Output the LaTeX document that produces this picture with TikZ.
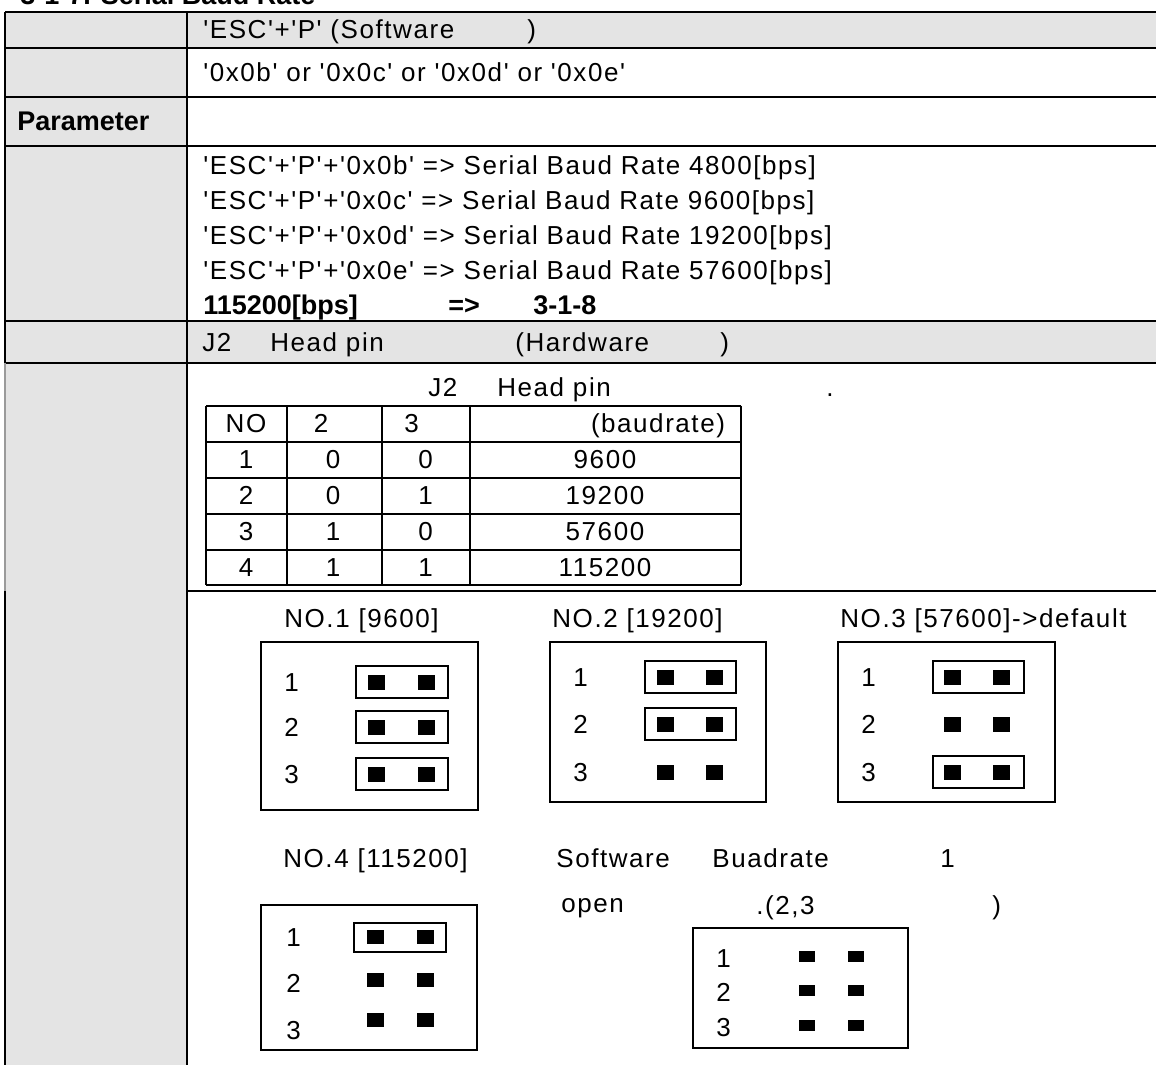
\documentclass[tikz,border=0pt]{standalone}
\usepackage{fontspec}
\setmainfont{Liberation Sans}[Ligatures=TeXOff]
\newfontfamily\widefont{Liberation Sans}[Ligatures=TeXOff,LetterSpace=6]
\definecolor{cellgray}{HTML}{E4E4E4}
\definecolor{edgegray}{HTML}{9A9A9A}
\tikzset{
  txt/.style={anchor=base west, inner sep=0pt, font=\widefont\fontsize{13}{15}\selectfont},
  ctxt/.style={txt, anchor=base},
  btxt/.style={anchor=base west, inner sep=0pt, font=\bfseries\fontsize{13.5}{16}\selectfont},
  rule/.style={line width=1pt},
  boxline/.style={line width=0.9pt},
  capline/.style={line width=0.6pt},
}
\begin{document}
\begin{tikzpicture}[x=0.5pt,y=-0.5pt]
            \useasboundingbox (0,0) rectangle (1156,1065);
            
            % Title, cut by the page top
            \node [btxt] (title) at (20,5) {3-1-7. Serial Baud Rate};
            
            % Gray cells
            \fill [cellgray] (5,12) rectangle (1156,48);
            \fill [cellgray] (5,48) rectangle (187,1065);
            \fill [cellgray] (187,321) rectangle (1156,363);
            
            % Row rules
            \foreach \yr in {12,48,97,146,321,363} {
              \draw [rule] (5,\yr) -- (1156,\yr);
            }
            \draw [rule] (187,591) -- (1156,591);
            
            % Left border and column divider
            \draw [rule] (5,12) -- (5,363);
            \draw [line width=0.8pt, edgegray] (5,363) -- (5,591);
            \draw [rule] (5,591) -- (5,1065);
            \draw [rule] (187,12) -- (187,1065);
            
            % Command rows
            \node [txt] (esc) at (203,39) {'ESC'+'P' (Software};
            \node [txt] (escr) at (527,39) {)};
            \node [txt] (codes) at (203,82) {'0x0b' or '0x0c' or '0x0d' or '0x0e'};
            \node [btxt] (param) at (17,131) {Parameter};
            
            % Baud rate lines
            \node [txt] (rb) at (203,174) {'ESC'+'P'+'0x0b' => Serial Baud Rate 4800[bps]};
            \node [txt] (rc) at (203,209) {'ESC'+'P'+'0x0c' => Serial Baud Rate 9600[bps]};
            \node [txt] (rd) at (203,244) {'ESC'+'P'+'0x0d' => Serial Baud Rate 19200[bps]};
            \node [txt] (re) at (203,279) {'ESC'+'P'+'0x0e' => Serial Baud Rate 57600[bps]};
            \node [btxt] (rf) at (203,314) {115200[bps]};
            \node [btxt] (rfa) at (448,314) {=>};
            \node [btxt] (rfb) at (533,314) {3-1-8};
            
            % Hardware row
            \node [txt] (hwa) at (202,351) {J2};
            \node [txt] (hwb) at (270,351) {Head pin};
            \node [txt] (hwc) at (515,351) {(Hardware};
            \node [txt] (hwd) at (720,351) {)};
            
            % Head pin table caption
            \node [txt] (capa) at (428,396) {J2};
            \node [txt] (capb) at (497,396) {Head pin};
            \node [txt] (capc) at (826,396) {.};
            
            % Head pin table grid
            \foreach \xc in {206,287,382,470,741} {
              \draw [rule] (\xc,405.6) -- (\xc,585);
            }
            \foreach \yc in {405.6,441.6,477.6,513.6,549.6,585} {
              \draw [rule] (206,\yc) -- (741,\yc);
            }
            \node [ctxt] (hno) at (246,432.6) {NO};
            \node [ctxt] (h2) at (321,432.6) {2};
            \node [ctxt] (h3) at (411.5,432.6) {3};
            \node [ctxt] (hbr) at (658,432.6) {(baudrate)};
            \foreach \n/\a/\b/\rate/\yc in {1/0/0/9600/459.6,2/0/1/19200/495.6,3/1/0/57600/531.6,4/1/1/115200/567.6} {
              \node [ctxt] (tn\n) at (246,\yc+9) {\n};
              \node [ctxt] (ta\n) at (333,\yc+9) {\a};
              \node [ctxt] (tb\n) at (425.5,\yc+9) {\b};
              \node [ctxt] (tr\n) at (605,\yc+9) {\rate};
            }
            
            % Jumper box NO.1
            \node [txt] (lbla) at (284,627) {NO.1 [9600]};
            \draw [boxline] (261,642) rectangle (478,810);
            \foreach \r/\yc in {1/682,2/727,3/774} {
              \node [txt] (ja\r) at (284,\yc+9) {\r};
              \fill (368,\yc-7.5) rectangle (385,\yc+7.5);
              \fill (418,\yc-7.5) rectangle (435,\yc+7.5);
              \draw [capline] (356,\yc-16) rectangle (448,\yc+16);
            }
            
            % Jumper box NO.2
            \node [txt] (lblb) at (552,627) {NO.2 [19200]};
            \draw [boxline] (550,642) rectangle (766,802);
            \foreach \r/\yc in {1/677,2/724,3/772} {
              \node [txt] (jb\r) at (573,\yc+9) {\r};
              \fill (657,\yc-7.5) rectangle (674,\yc+7.5);
              \fill (706,\yc-7.5) rectangle (723,\yc+7.5);
            }
            \draw [capline] (645,661) rectangle (736,693);
            \draw [capline] (645,708) rectangle (736,740);
            
            % Jumper box NO.3
            \node [txt] (lblc) at (840,627) {NO.3 [57600]->default};
            \draw [boxline] (838,642) rectangle (1055,802);
            \foreach \r/\yc in {1/677,2/724,3/772} {
              \node [txt] (jc\r) at (861,\yc+9) {\r};
              \fill (944,\yc-7.5) rectangle (961,\yc+7.5);
              \fill (993,\yc-7.5) rectangle (1010,\yc+7.5);
            }
            \draw [capline] (933,661) rectangle (1024,693);
            \draw [capline] (933,756) rectangle (1024,788);
            
            % Jumper box NO.4
            \node [txt] (lbld) at (283,867) {NO.4 [115200]};
            \draw [boxline] (261,905) rectangle (477,1050);
            \foreach \r/\yl/\yp in {1/937/937,2/983/980,3/1030/1020} {
              \node [txt] (jd\r) at (286,\yl+9) {\r};
              \fill (367,\yp-7) rectangle (384,\yp+7);
              \fill (417,\yp-7) rectangle (434,\yp+7);
            }
            \draw [capline] (354,923) rectangle (446,952);
            
            % Software note
            \node [txt] (swa) at (556,867) {Software};
            \node [txt] (swb) at (712,867) {Buadrate};
            \node [txt] (swc) at (940,867) {1};
            \node [txt] (swd) at (561,912) {open};
            \node [txt] (swe) at (756,914) {.(2,3};
            \node [txt] (swf) at (992,914) {)};
            
            % Open jumper box
            \draw [boxline] (693,928) rectangle (908,1048);
            \foreach \r/\yl/\yp in {1/958/956,2/992/990,3/1027/1025} {
              \node [txt] (je\r) at (716,\yl+9) {\r};
              \fill (799,\yp-5.5) rectangle (815,\yp+5.5);
              \fill (848,\yp-5.5) rectangle (864,\yp+5.5);
            }
\end{tikzpicture}
\end{document}
